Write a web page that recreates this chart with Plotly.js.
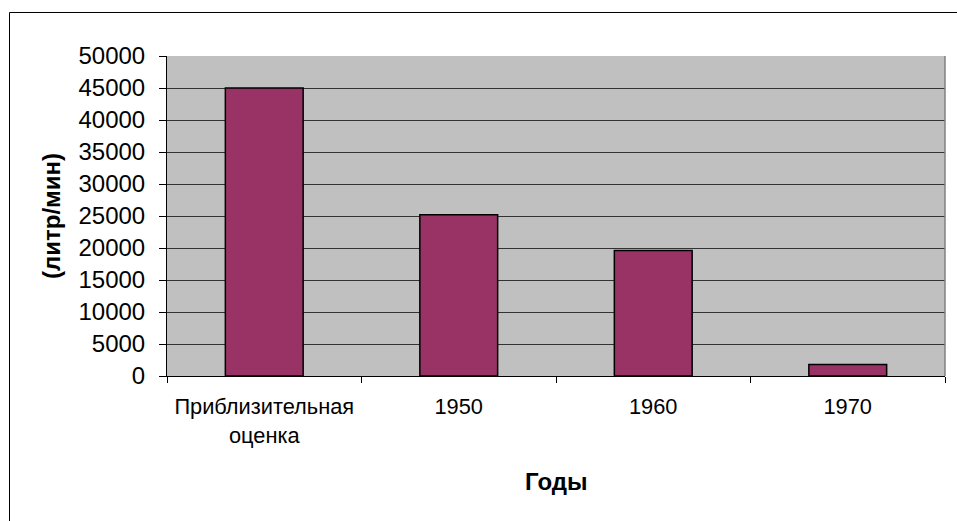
<!DOCTYPE html>
<html>
<head>
<meta charset="utf-8">
<script src="https://cdn.plot.ly/plotly-3.0.1.min.js"></script>
<style>
html,body{margin:0;padding:0;background:#fff;}
#chart{width:957px;height:521px;}
</style>
</head>
<body>
<div id="chart"></div>
<script>
const categories = ["Приблизительная<br>оценка", "1950", "1960", "1970"];
const values = [45000, 25200, 19600, 1800];
const yTitle = "(литр/мин)";
const xTitle = "Годы";

const W = 957, H = 521;
const L = 167, R = 945, T = 56, B = 376;
const pw = R - L, ph = B - T;
const px = v => (v - L) / pw;
const py = v => (B - v) / ph;

const trace = {
  type: "bar",
  x: categories,
  y: values,
  marker: {color: "#993366", line: {color: "#000000", width: 1.5}},
  hoverinfo: "skip"
};

const layout = {
  width: W, height: H,
  margin: {l: L, r: W - R, t: T, b: H - B, pad: 0},
  paper_bgcolor: "#ffffff",
  plot_bgcolor: "#c0c0c0",
  bargap: 0.6,
  showlegend: false,
  font: {family: "Liberation Sans, Arial, sans-serif", color: "#000", size: 21},
  xaxis: {
    type: "category",
    tickson: "boundaries",
    ticks: "outside", ticklen: 6, tickcolor: "#000", tickwidth: 1,
    showline: true, linecolor: "#000", linewidth: 1,
    showgrid: false, zeroline: false,
    tickfont: {size: 21.8},
    ticklabelstandoff: 11,
    automargin: false
  },
  yaxis: {
    range: [0, 50000], dtick: 5000, tick0: 0,
    tickformat: "d",
    ticks: "outside", ticklen: 7, tickcolor: "#000", tickwidth: 1,
    showline: true, linecolor: "#000", linewidth: 1,
    showgrid: true, gridcolor: "#333333", gridwidth: 1,
    zeroline: false,
    tickfont: {size: 24},
    ticklabelstandoff: 9,
    automargin: false
  },
  shapes: [
    {type: "line", xref: "paper", yref: "paper", x0: 1, x1: 1, y0: 0, y1: 1,
     line: {color: "#808080", width: 1.5}},
    {type: "line", xref: "paper", yref: "paper",
     x0: px(9.5), x1: px(9.5), y0: py(12.5), y1: py(530),
     line: {color: "#000", width: 1}},
    {type: "line", xref: "paper", yref: "paper",
     x0: px(9.5), x1: px(990), y0: py(12.5), y1: py(12.5),
     line: {color: "#000", width: 1}}
  ],
  annotations: [
    {text: "<b>" + yTitle + "</b>", xref: "paper", yref: "paper",
     x: px(51), y: 0.5, xanchor: "center", yanchor: "middle",
     textangle: -90, showarrow: false, font: {size: 24}},
    {text: "<b>" + xTitle + "</b>", xref: "paper", yref: "paper",
     x: 0.5, y: py(481), xanchor: "center", yanchor: "middle",
     showarrow: false, font: {size: 24}}
  ]
};

Plotly.newPlot("chart", [trace], layout, {displayModeBar: false, staticPlot: true});
</script>
</body>
</html>
